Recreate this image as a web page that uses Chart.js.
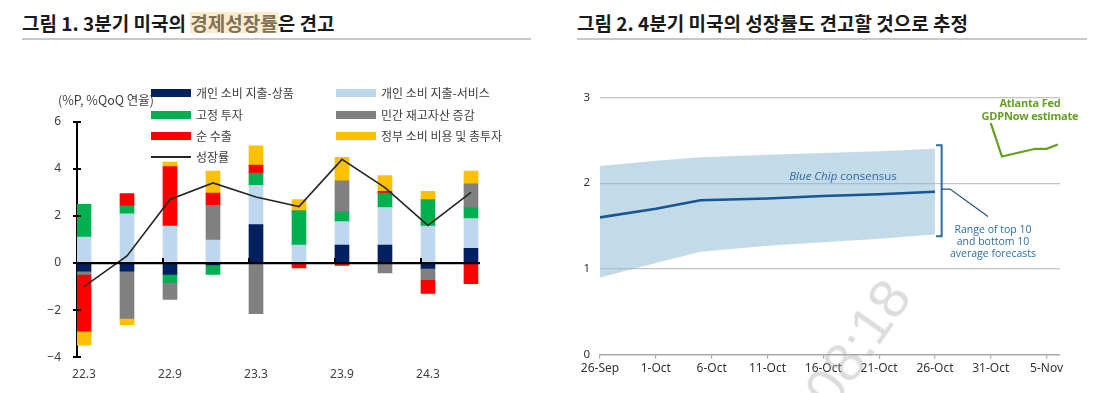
<!DOCTYPE html>
<html><head><meta charset="utf-8">
<script src="https://cdn.jsdelivr.net/npm/chart.js@4.4.0/dist/chart.umd.min.js"></script>
<style>
html,body{margin:0;padding:0;background:#fff;}
body{width:1102px;height:393px;position:relative;overflow:hidden;font-family:"Noto Sans CJK KR","Noto Sans",sans-serif;}
.title{position:absolute;top:10px;font-weight:700;font-size:19px;color:#1a1a1a;white-space:nowrap;line-height:26px;}
.hl{background:#fcebcd;color:#7d7158;display:inline-block;line-height:21px;}
.rule{position:absolute;top:38px;height:2px;background:#c8c8c8;}
canvas{position:absolute;top:0;}
.unit{position:absolute;left:58px;top:91px;font-size:12.5px;color:#404040;line-height:18px;white-space:nowrap;}
.lg{position:absolute;font-size:12px;color:#404040;white-space:nowrap;line-height:16px;}
.lg .sw{position:absolute;left:0;width:40px;}
.lg .tx{position:absolute;left:45px;top:0;}
.ann{position:absolute;white-space:nowrap;text-align:center;transform:translateX(-50%);font-family:"Open Sans","Noto Sans",sans-serif;}
.wm{position:absolute;left:857px;top:343px;transform:translate(-50%,-50%) rotate(-55deg);font-family:"Liberation Sans",sans-serif;font-size:56px;color:rgba(170,170,170,0.40);white-space:nowrap;}
</style></head>
<body>
<div class="title" style="left:22px;">그림 1. 3분기 미국의 <span class="hl">경제성장률</span>은 견고</div>
<div class="rule" style="left:22px;width:509px;"></div>
<div class="title" style="left:577px;">그림 2. 4분기 미국의 성장률도 견고할 것으로 추정</div>
<div class="rule" style="left:577px;width:510px;"></div>

<canvas id="c1" width="550" height="393" style="left:0;width:550px;height:393px;"></canvas>
<canvas id="c2" width="542" height="393" style="left:560px;width:542px;height:393px;"></canvas>

<div class="unit">(%P, %QoQ 연율)</div>
<div id="legend"></div>

<div class="ann" style="left:843px;top:168px;font-size:11.5px;color:#2e6aa2;"><i>Blue Chip</i> consensus</div>
<div class="ann" style="left:993px;top:223px;font-size:10.5px;line-height:12.2px;color:#2d6ea6;">Range of top 10<br>and bottom 10<br>average forecasts</div>
<div class="ann" style="left:1030px;top:97px;font-size:11px;line-height:12.7px;font-weight:700;color:#64a01e;letter-spacing:-0.2px;">Atlanta Fed<br>GDPNow estimate</div>
<div class="wm">08:18</div>

<script>
// ---------- Figure 1 data (contributions, %p, QoQ annualized) ----------
const quarters   = ['22.3','22.6','22.9','22.12','23.3','23.6','23.9','23.12','24.3','24.6'];
const tickQuarterIdx = [0, 2, 4, 6, 8];
const yTicks1    = [-4, -2, 0, 2, 4, 6];
const goods      = [-0.34, -0.34, -0.48, -0.08, 1.63, 0.00, 0.76, 0.76, -0.23, 0.62];
const services   = [ 1.10,  2.09,  1.57,  0.98, 1.67, 0.76, 1.00, 1.60,  1.57, 1.27];
const fixedInv   = [ 1.39,  0.34, -0.34, -0.40, 0.52, 1.46, 0.40, 0.61,  1.12, 0.45];
const inventory  = [-0.14, -2.01, -0.72,  1.47,-2.15, 0.00, 1.33,-0.42, -0.48, 1.02];
const netExports = [-2.41,  0.52,  2.52,  0.52, 0.34,-0.21,-0.10, 0.07, -0.58,-0.88];
const government = [-0.59, -0.27,  0.20,  0.93, 0.82, 0.47, 1.00, 0.67,  0.35, 0.54];
const growth     = [-1.0,   0.3,   2.7,   3.4,  2.8,  2.4,  4.4,  3.2,   1.6,  3.0];

// ---------- Figure 2 data (days since 26-Sep) ----------
const dateTickLabels = ['26-Sep','1-Oct','6-Oct','11-Oct','16-Oct','21-Oct','26-Oct','31-Oct','5-Nov'];
const dateTickDays   = [0,5,10,15,20,25,30,35,40];
const yTicks2        = [0,1,2,3];
const bandDays  = [0,    5,    9,    15,   20,   25,   30];
const bandLow   = [0.90, 1.07, 1.20, 1.27, 1.31, 1.35, 1.40];
const bandHigh  = [2.20, 2.26, 2.30, 2.33, 2.35, 2.37, 2.40];
const consensus = [1.60, 1.70, 1.80, 1.82, 1.85, 1.87, 1.90];
const nowDays   = [35,   36,   39,   40,   41];
const nowValues = [2.70, 2.31, 2.40, 2.40, 2.45];
// bracket annotation (data units)
const bracketX = 30.6, bracketSerifX = 30.1, bracketTop = 2.44, bracketBottom = 1.38;
const leaderPts = [[30.6,1.93],[31.35,1.93],[34.75,1.61]];

const seriesNames  = ['개인 소비 지출-상품','개인 소비 지출-서비스','고정 투자','민간 재고자산 증감','순 수출','정부 소비 비용 및 총투자'];
const seriesColors = ['#002060','#bdd7ee','#00b050','#808080','#ff0000','#ffc000'];
const seriesData   = [goods, services, fixedInv, inventory, netExports, government];

const BAR_W = 14;
const toXY = arr => arr.map((v,i)=>({x:i,y:v}));

const barSets = seriesData.map((arr,k)=>({
  type:'bar', label:seriesNames[k], data:toXY(arr), backgroundColor:seriesColors[k],
  borderWidth:0, barThickness:BAR_W, stack:'s', order:1
}));
const lineSet = {type:'line', label:'성장률', data:toXY(growth), borderColor:'#262626', borderWidth:1.6,
  pointRadius:0, fill:false, stack:'line', order:0, tension:0};

const deco1 = {
  id:'deco1',
  afterDatasetsDraw(chart){
    const c = chart.ctx, xs = chart.scales.x, ys = chart.scales.y;
    const zy = ys.getPixelForValue(0);
    c.save();
    c.strokeStyle='#000'; c.lineWidth=2.2;
    c.beginPath(); c.moveTo(chart.chartArea.left, zy); c.lineTo(chart.chartArea.right, zy); c.stroke();
    c.lineWidth=2;
    const ax = chart.chartArea.left;
    yTicks1.forEach(v=>{ const y = Math.round(ys.getPixelForValue(v)); c.beginPath(); c.moveTo(ax-4,y); c.lineTo(ax+4,y); c.stroke(); });
    tickQuarterIdx.forEach(i=>{ if(i===0) return; const x = Math.round(xs.getPixelForValue(i)-BAR_W/2); c.beginPath(); c.moveTo(x,zy); c.lineTo(x,zy-5); c.stroke(); });
    c.restore();
  }
};

const chart1 = new Chart(document.getElementById('c1'), {
  data:{ datasets:[...barSets, lineSet] },
  options:{
    responsive:false, animation:false, maintainAspectRatio:false,
    layout:{ padding:{ top:121.7, right:70, bottom:0, left:0 } },
    plugins:{ legend:{display:false}, tooltip:{enabled:false} },
    scales:{
      x:{ type:'linear', stacked:true, offset:false, min:-0.163, max:9.21,
          afterBuildTicks:s=>{ s.ticks = tickQuarterIdx.map(v=>({value:v})); },
          afterFit:s=>{ s.height = 35.7; },
          grid:{display:false, drawTicks:false}, border:{display:false},
          ticks:{ padding:10, autoSkip:false, maxRotation:0, color:'#404040',
                  font:{family:'"Noto Sans", sans-serif', size:12},
                  callback:v=>quarters[v] } },
      y:{ stacked:true, min:-4, max:6,
          afterBuildTicks:s=>{ s.ticks = yTicks1.map(v=>({value:v})); },
          afterFit:s=>{ s.width = 77; },
          grid:{ display:false, drawTicks:false },
          border:{ display:true, color:'#000', width:2 },
          ticks:{ padding:16, color:'#404040', font:{family:'"Noto Sans", sans-serif', size:12},
                  callback:v=>String(v).replace('-','−') } }
    }
  },
  plugins:[deco1]
});

// HTML legend built from chart datasets
(function(){
  const host = document.getElementById('legend');
  const rows = [93.3,114.5,135.8,156.7];
  const cols = [151,336];
  const ds = chart1.data.datasets;
  ds.forEach((d,k)=>{
    const r = Math.floor(k/2), col = k%2;
    const el = document.createElement('div');
    el.className='lg';
    el.style.left = cols[col]+'px';
    el.style.top = (rows[r]-8)+'px';
    el.style.width='200px'; el.style.height='16px';
    const sw = document.createElement('div'); sw.className='sw';
    if(d.type==='line'){ sw.style.top='7px'; sw.style.height='2px'; sw.style.background=d.borderColor; }
    else { sw.style.top='4px'; sw.style.height='8px'; sw.style.background=d.backgroundColor; }
    const tx = document.createElement('div'); tx.className='tx'; tx.textContent=d.label;
    el.appendChild(sw); el.appendChild(tx); host.appendChild(el);
  });
})();

// ---------- Figure 2 ----------
const deco2 = {
  id:'deco2',
  afterDatasetsDraw(chart){
    const c = chart.ctx, xs = chart.scales.x, ys = chart.scales.y;
    const P = (x,y)=>[xs.getPixelForValue(x), ys.getPixelForValue(y)];
    c.save();
    c.strokeStyle='#2b6ca3'; c.lineWidth=2;
    let a=P(bracketSerifX,bracketTop), b=P(bracketX,bracketTop), d=P(bracketX,bracketBottom), e=P(bracketSerifX,bracketBottom);
    c.beginPath(); c.moveTo(a[0],a[1]); c.lineTo(b[0],b[1]); c.lineTo(d[0],d[1]); c.lineTo(e[0],e[1]); c.stroke();
    c.strokeStyle='#1f4e85'; c.lineWidth=1.2;
    c.beginPath(); leaderPts.forEach((p,i)=>{ const q=P(p[0],p[1]); i?c.lineTo(q[0],q[1]):c.moveTo(q[0],q[1]); }); c.stroke();
    c.restore();
  }
};

new Chart(document.getElementById('c2'), {
  type:'line',
  data:{ datasets:[
    {label:'low', data:bandDays.map((d,i)=>({x:d,y:bandLow[i]})), borderWidth:0, pointRadius:0, fill:false, tension:0, order:2},
    {label:'range', data:bandDays.map((d,i)=>({x:d,y:bandHigh[i]})), borderWidth:0, pointRadius:0, fill:'-1',
     backgroundColor:'rgba(140,185,212,0.52)', tension:0, order:2},
    {label:'Blue Chip consensus', data:bandDays.map((d,i)=>({x:d,y:consensus[i]})), borderColor:'#165596', borderWidth:2.6, pointRadius:0, fill:false, tension:0, order:0},
    {label:'GDPNow', data:nowDays.map((d,i)=>({x:d,y:nowValues[i]})), borderColor:'#64a01e', borderWidth:2.2, pointRadius:0, fill:false, tension:0, order:0}
  ]},
  options:{
    responsive:false, animation:false, maintainAspectRatio:false,
    layout:{ padding:{ top:97.3, right:42, bottom:0, left:0 } },
    plugins:{ legend:{display:false}, tooltip:{enabled:false} },
    scales:{
      x:{ type:'linear', min:0, max:41.2,
          afterBuildTicks:s=>{ s.ticks = dateTickDays.map(v=>({value:v})); },
          afterFit:s=>{ s.height = 38.3; },
          grid:{ drawOnChartArea:false, drawTicks:true, tickLength:4, color:'#a8a8a8', lineWidth:1.2 },
          border:{ display:true, color:'#a8a8a8', width:1.5 },
          ticks:{ padding:3, autoSkip:false, maxRotation:0, color:'#333',
                  font:{family:'"Noto Sans", sans-serif', size:12},
                  callback:v=>dateTickLabels[dateTickDays.indexOf(v)] } },
      y:{ min:0, max:3,
          afterBuildTicks:s=>{ s.ticks = yTicks2.map(v=>({value:v})); },
          afterFit:s=>{ s.width = 40; },
          grid:{ drawTicks:false, color:c=>c.tick && c.tick.value===0 ? 'rgba(0,0,0,0)' : '#c4c4c4', lineWidth:1.2 },
          border:{ display:false },
          ticks:{ padding:10, color:'#333', font:{family:'"Noto Sans", sans-serif', size:11.5} } }
    }
  },
  plugins:[deco2]
});
</script>
</body></html>
